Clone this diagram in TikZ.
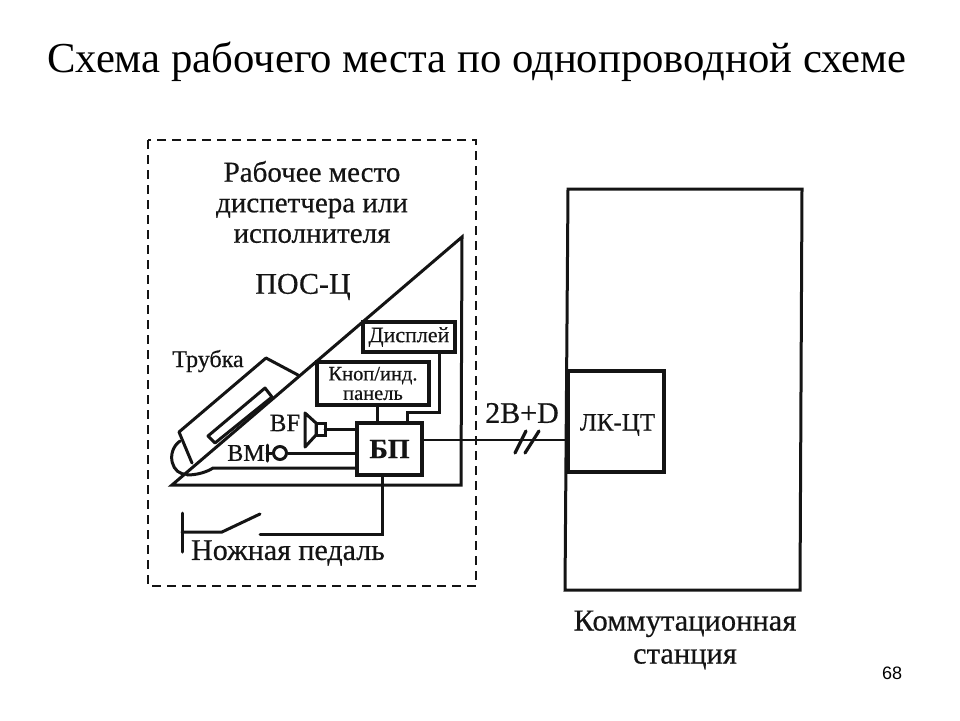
\documentclass[tikz,border=0pt]{standalone}
\usepackage{fontspec}
\setmainfont{Liberation Serif}
\newfontfamily\arialf{Liberation Sans}
\newfontfamily\scanf[FakeBold=0.5]{Liberation Serif}
\definecolor{ink}{gray}{0.08}
\newcommand{\fsz}[1]{\fontsize{#1}{#1}\scanf\selectfont}
\tikzset{
 wire/.style={draw=ink,line width=3pt,line cap=round,line join=miter},
 thin wire/.style={draw=ink,line width=2.2pt},
 lbl/.style={inner sep=0pt,text=ink,align=center},
 box/.style={draw=ink,line width=3.2pt,fill=white,inner sep=0pt,text=ink,align=center}
}
\begin{document}
\begin{tikzpicture}[x=1pt,y=-1pt]
\useasboundingbox (0,0) rectangle (960,720);
\fill[white] (0,0) rectangle (960,720);
\node[inner sep=0pt,text=black,font=\fontsize{42.7}{46}\selectfont] (title) at (477,61.5) {Схема рабочего места по однопроводной схеме};
\node[inner sep=0pt,text=black,font=\arialf\fontsize{18}{20}\selectfont] (page) at (892,673) {68};
% workplace frame
\draw[draw=ink,line width=2.2pt,dash pattern=on 9pt off 6pt] (148,140) rectangle (476,586);
\node[lbl,font=\fsz{29},execute at begin node={\setlength{\baselineskip}{30.5pt}}] (wp) at (312,202) {Рабочее место\\диспетчера или\\исполнителя};
\node[lbl,font=\fsz{30}] (pos) at (303,287) {ПОС-Ц};
% desk
\draw[wire] (462,237) -- (172,485) -- (461,485) -- cycle;
% boxes
\node[box,minimum width=92pt,minimum height=30pt,font=\fsz{22}] (disp) at (409,337) {Дисплей};
\node[box,minimum width=112pt,minimum height=43pt,font=\fsz{20.5},execute at begin node={\setlength{\baselineskip}{19.5pt}}] (knop) at (373,383.5) {Кноп/инд.\\панель};
\node[box,minimum width=65pt,minimum height=52pt,font=\fsz{28}] (bp) at (389.5,449) {\textbf{БП}};
\draw[wire] (knop.south -| 377,405) -- (377,423);
\draw[wire] (disp.south -| 439,352) -- (439,412) -- (407,412) -- (407,423);
% handset
\draw[wire,line join=round] (192,463) -- (179,432) -- (266,358) -- (298,375);
\draw[wire,line join=round] (265,388) -- (208,436) -- (215,443) -- (272,397) -- cycle;
\draw[wire] (180,441) .. controls (165,452) and (172,476) .. (187,474);
\draw[wire] (187,475) .. controls (197,475) and (207,472) .. (213,468) -- (bp.west |- 357,468);
\node[lbl,font=\fsz{24}] (tr) at (208,361) {Трубка};
% speaker
\node[lbl,font=\fsz{25}] (bf) at (285,423) {BF};
\draw[wire,line join=round] (305,413) -- (305,447) -- (316,435) -- (316,423) -- cycle;
\draw[wire] (316,423) rectangle (325,435);
\coordinate (spk) at (325,429);
\draw[wire] (spk) -- (bp.west |- spk);
% microphone
\node[lbl,font=\fsz{24}] (bm) at (246,453) {ВМ};
\node[circle,draw=ink,line width=3pt,minimum size=13pt,inner sep=0pt] (mic) at (280,453) {};
\coordinate (micbar) at (267,453);
\draw[wire] (267,445) -- (267,461);
\draw[wire] (micbar) -- (mic.west);
\draw[wire] (mic.east) -- (bp.west |- mic);
% pedal
\node[lbl,font=\fsz{30}] (ped) at (288,553) {Ножная педаль};
\coordinate (ps) at (260,534);
\draw[wire] (182,513) -- (182,552);
\draw[wire] (182,532) -- (222,532) -- (260,514);
\draw[wire] (ps) -- (382,534) -- (bp.south -| 382,475);
% station
\draw[wire,line width=3pt] (568,189) -- (802,189) -- (800,590) -- (565,590) -- cycle;
\node[box,minimum width=96pt,minimum height=101pt] (lk) at (616,421.5) {};
\node[lbl,font=\fsz{25}] (lkt) at (617.5,425) {ЛК-ЦТ};
\draw[thin wire] (bp.east |- 422,440) -- (lk.west |- 568,440);
\draw[wire,line width=3.2pt] (515,453) -- (526,431);
\draw[wire,line width=3.2pt] (525,453) -- (539,431);
\node[lbl,font=\fsz{30}] (bd) at (522,413) {2B+D};
\node[lbl,font=\fsz{30.5},execute at begin node={\setlength{\baselineskip}{33pt}}] (st) at (685,640) {Коммутационная\\станция};
\end{tikzpicture}
\end{document}
